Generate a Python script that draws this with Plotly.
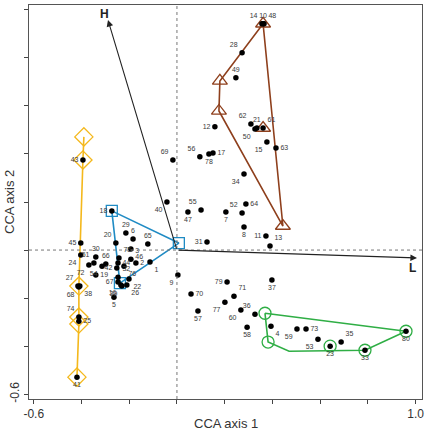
import plotly.graph_objects as go

# ---- site scores (CCA axis 1, CCA axis 2) ----
site_ids = [str(i) for i in range(1, 81)]
axis1 = [-0.113, -0.172, -0.193, 0.394, -0.264, -0.184, 0.205, 0.281, 0.004, 0.361,
         0.373, 0.159, 0.390, 0.356, 0.377, -0.235, 0.151, -0.273, -0.340, -0.256,
         0.335, -0.201, 0.642, -0.403, -0.411, -0.210, -0.415, 0.273, -0.214, -0.340,
         0.126, -0.247, 0.788, 0.281, 0.688, 0.327, 0.398, -0.407, -0.231, -0.042,
         -0.419, -0.252, -0.394, -0.247, -0.403, -0.193, 0.046, 0.365, 0.247, 0.327,
         -0.348, 0.273, 0.591, -0.314, 0.101, 0.096, 0.088, 0.294, 0.503, 0.268,
         0.361, 0.310, 0.415, 0.289, -0.122, -0.298, -0.247, -0.411, -0.017, 0.059,
         0.239, -0.369, 0.541, -0.411, -0.243, -0.222, 0.201, 0.134, 0.210, 0.960]
axis2 = [-0.050, -0.054, -0.038, -0.317, -0.196, 0.046, 0.158, 0.096, -0.104, 0.942,
         0.058, 0.513, 0.017, 0.942, 0.450, -0.146, 0.404, 0.163, -0.104, 0.029,
         0.508, -0.121, -0.400, -0.021, -0.296, -0.146, -0.150, 0.821, 0.071, -0.029,
         0.033, -0.113, -0.417, 0.317, -0.383, -0.267, -0.125, -0.150, -0.150, 0.200,
         -0.529, -0.075, 0.375, -0.054, 0.029, 0.004, 0.158, 0.942, 0.717, 0.504,
         -0.054, 0.154, -0.371, -0.067, 0.167, 0.388, -0.254, -0.321, -0.329, -0.250,
         0.508, 0.525, 0.425, 0.192, 0.025, -0.058, -0.133, -0.154, 0.375, -0.183,
         -0.192, -0.0625, -0.329, -0.279, -0.033, -0.067, -0.217, 0.400, -0.133, -0.338]

# ---- group hulls and member symbols ----
brown_hull_x = [0.361, 0.180, 0.176, 0.444, 0.361]
brown_hull_y = [0.942, 0.704, 0.579, 0.100, 0.942]
brown_sym_x = [0.361, 0.180, 0.176, 0.361, 0.444]
brown_sym_y = [0.942, 0.704, 0.579, 0.508, 0.100]

blue_hull_x = [-0.273, 0.008, -0.239, -0.273]
blue_hull_y = [0.163, 0.029, -0.138, 0.163]
blue_sym_x = [-0.273, 0.008, -0.239]
blue_sym_y = [0.163, 0.029, -0.138]

yellow_hull_x = [-0.390, -0.394, -0.411, -0.411, -0.411, -0.419]
yellow_hull_y = [0.471, 0.375, -0.150, -0.279, -0.308, -0.529]
yellow_sym_x = [-0.390, -0.394, -0.411, -0.411, -0.411, -0.419]
yellow_sym_y = [0.471, 0.375, -0.150, -0.279, -0.308, -0.529]

green_hull_x = [0.369, 0.382, 0.470, 0.788, 0.960, 0.369]
green_hull_y = [-0.263, -0.383, -0.421, -0.417, -0.338, -0.263]
green_sym_x = [0.369, 0.382, 0.642, 0.788, 0.960]
green_sym_y = [-0.263, -0.383, -0.400, -0.417, -0.338]

# ---- environmental vectors ----
vec_names = ["H", "L"]
vec_x = [-0.289, 1.006]
vec_y = [0.958, -0.033]

# axis ticks
tickv = [-0.6, -0.4, -0.2, 0.0, 0.2, 0.4, 0.6, 0.8, 1.0]
tickt = ["-0.6", "", "", "", "", "", "", "", "1.0"]

# label placement (style)
pos = {
 1:"bottom right",2:"middle right",3:"top right",4:"bottom right",5:"bottom center",
 6:"top center",7:"bottom center",8:"bottom center",9:"bottom left",10:"top center",
 11:"middle left",12:"middle left",13:"top right",14:"top left",15:"bottom left",
 16:"bottom left",17:"middle right",18:"middle left",19:"middle right",20:"top left",
 21:"top center",22:"bottom right",23:"bottom center",24:"bottom left",25:"middle right",
 26:"bottom right",27:"top left",28:"top left",29:"top center",30:"top center",
 31:"middle left",32:"top right",33:"bottom center",34:"bottom left",35:"top right",
 36:"top left",37:"bottom center",38:"bottom right",39:"bottom left",40:"bottom left",
 41:"bottom center",42:"middle left",43:"middle left",44:"middle right",45:"middle left",
 46:"bottom right",47:"bottom center",48:"top right",49:"top center",50:"bottom left",
 51:"top left",52:"top left",53:"bottom left",54:"bottom left",55:"top left",
 56:"top left",57:"bottom center",58:"bottom center",59:"bottom left",60:"bottom left",
 61:"top right",62:"top left",63:"middle right",64:"middle right",65:"top center",
 66:"top center",67:"middle left",68:"bottom left",69:"top left",70:"middle right",
 71:"top right",72:"bottom left",73:"middle right",74:"top left",75:"top right",
 76:"bottom right",77:"bottom left",78:"bottom center",79:"middle left",80:"bottom center"}

BROWN = "#8e3f1c"
BLUE = "#1f8bc4"
YELLOW = "#f4b81c"
GREEN = "#2fae45"
FONT = "Liberation Sans, Arial"

fig = go.Figure()

for hx, hy, col in [(brown_hull_x, brown_hull_y, BROWN), (blue_hull_x, blue_hull_y, BLUE),
                    (yellow_hull_x, yellow_hull_y, YELLOW), (green_hull_x, green_hull_y, GREEN)]:
    fig.add_trace(go.Scatter(x=hx, y=hy, mode="lines", line=dict(color=col, width=1.6),
                             hoverinfo="skip", showlegend=False))

for sx, sy, col, sym, sz in [(brown_sym_x, brown_sym_y, BROWN, "triangle-up-open", 13),
                             (blue_sym_x, blue_sym_y, BLUE, "square-open", 11),
                             (yellow_sym_x, yellow_sym_y, YELLOW, "diamond-open", 14),
                             (green_sym_x, green_sym_y, GREEN, "circle-open", 12)]:
    fig.add_trace(go.Scatter(x=sx, y=sy, mode="markers",
                             marker=dict(symbol=sym, size=sz, color=col, line=dict(width=1.3, color=col)),
                             hoverinfo="skip", showlegend=False))

fig.add_trace(go.Scatter(
    x=axis1, y=axis2, mode="markers+text", text=site_ids,
    textposition=[pos[int(s)] for s in site_ids],
    textfont=dict(size=7, color="#3a3a3a", family=FONT),
    marker=dict(size=5.5, color="black"), showlegend=False))

# reference lines at zero
fig.add_shape(type="line", x0=0, x1=0, y0=0, y1=1, xref="x", yref="paper",
              line=dict(color="#777", width=1, dash="dot"))
fig.add_shape(type="line", x0=0, x1=1, y0=0, y1=0, xref="paper", yref="y",
              line=dict(color="#777", width=1, dash="dot"))

# vectors
for name, vx, vy in zip(vec_names, vec_x, vec_y):
    fig.add_annotation(x=vx, y=vy, ax=0, ay=0, xref="x", yref="y", axref="x", ayref="y",
                       showarrow=True, arrowhead=2, arrowsize=1.2, arrowwidth=1.1,
                       arrowcolor="#222", text="")
fig.add_annotation(x=vec_x[0], y=vec_y[0], text="<b>" + vec_names[0] + "</b>", showarrow=False,
                   xshift=-3, yshift=6, font=dict(size=12, color="#222", family=FONT))
fig.add_annotation(x=vec_x[1], y=vec_y[1], text="<b>" + vec_names[1] + "</b>", showarrow=False,
                   xshift=-4, yshift=-10, font=dict(size=12, color="#222", family=FONT))

# axis titles
fig.add_annotation(text="CCA axis 1", xref="paper", yref="paper", x=0.5, y=0, yshift=-24,
                   yanchor="middle", showarrow=False, font=dict(size=13, color="#333", family=FONT))
fig.add_annotation(text="CCA axis 2", xref="paper", yref="paper", x=0, y=0.5, xshift=-20,
                   xanchor="center", textangle=-90, showarrow=False,
                   font=dict(size=13, color="#333", family=FONT))

fig.update_xaxes(range=[-0.62, 1.027], tickvals=tickv, ticktext=tickt, ticks="outside",
                 ticklen=4, tickcolor="#444", showline=True, mirror=True, linecolor="#555",
                 linewidth=1, showgrid=False, zeroline=False, automargin=False,
                 tickfont=dict(size=12, color="#333"))
fig.update_yaxes(range=[-0.62, 1.02], tickvals=tickv, ticktext=tickt, ticks="outside",
                 ticklen=4, tickcolor="#444", showline=True, mirror=True, linecolor="#555",
                 linewidth=1, showgrid=False, zeroline=False, tickangle=-90, automargin=False,
                 tickfont=dict(size=12, color="#333"))

fig.update_layout(width=426, height=432, margin=dict(l=29, r=4, t=5, b=33),
                  plot_bgcolor="white", paper_bgcolor="white",
                  font=dict(family=FONT))

fig.write_html("out.html")
